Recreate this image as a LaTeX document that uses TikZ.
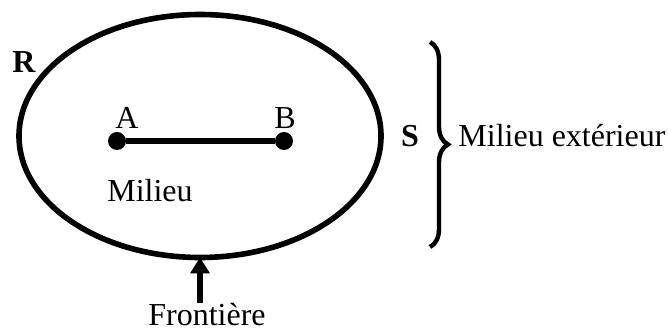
\documentclass[tikz,border=0pt]{standalone}
\usepackage{fontspec}
\setmainfont{Liberation Serif}
\usepackage{tikz}
\usetikzlibrary{shapes.geometric, arrows.meta, decorations.pathreplacing}

\begin{document}
\begin{tikzpicture}[
    x=0.5pt, y=0.5pt,
    every node/.style={font=\fontsize{16}{19}\selectfont},
    systeme/.style={draw, ellipse, line width=2.8pt, minimum width=181pt, minimum height=121.5pt, inner sep=0pt, outer sep=0pt},
    point/.style={circle, fill, inner sep=0pt, minimum size=9pt},
    segment/.style={line width=2.8pt},
    accolade/.style={decorate, decoration={brace, amplitude=9pt}, line width=2.2pt},
    arrow/.style={-{Triangle[length=8pt, width=9.5pt]}, line width=2.8pt}
]
    \useasboundingbox (0,0) rectangle (668,331);

    \node[systeme] (sys) at (200,195) {};
    \node[point] (a) at (117,190) {};
    \node[point] (b) at (284,190) {};
    \node (la) at (127,213) {A};
    \node (lb) at (285,213) {B};
    \node (mil) at (150,140) {Milieu};
    \node (r) at (24,269) {\textbf{R}};
    \node (s) at (410,195) {\textbf{S}};
    \coordinate (bhaut) at (430,289);
    \coordinate (bbas) at (430,84);
    \node[anchor=west, inner sep=0pt] (ext) at (458,195) {Milieu extérieur};
    \node (front) at (207,16) {Frontière};
    \coordinate (pied) at (200,28);

    \draw[segment] (a) -- (b);
    \draw[accolade] (bhaut) -- (bbas);
    \draw[arrow] (pied) -- (sys.south);
\end{tikzpicture}
\end{document}
